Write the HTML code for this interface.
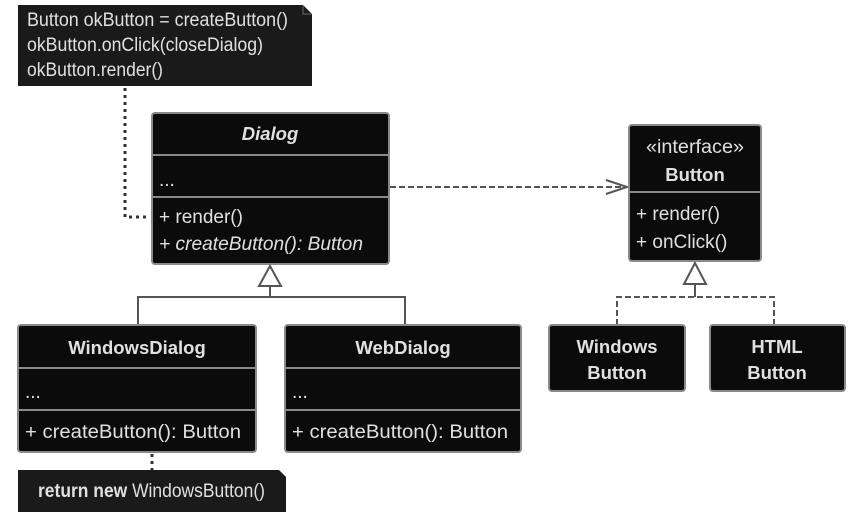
<!DOCTYPE html>
<html><head><meta charset="utf-8"><style>
html,body{margin:0;padding:0;background:#fff;}
svg{display:block;font-family:"Liberation Sans",sans-serif;}
.box{fill:#0b0b0b;stroke:#8a8a8a;stroke-width:2;}
.div{stroke:#8a8a8a;stroke-width:2;}
.t{fill:#e0e0e0;font-size:19px;}
.b{font-weight:bold;font-size:18.5px;}
.ln{stroke:#555;stroke-width:2;fill:none;}
.dash{stroke:#555;stroke-width:2;fill:none;stroke-dasharray:6,3;}
.dot{stroke:#333;stroke-width:3;fill:none;stroke-dasharray:3,4;}
</style></head><body>
<svg width="855" height="516" viewBox="0 0 855 516">
<path d="M18 5 H303 L312 14 V86 H18 Z" fill="#1a1a1a"/>
<path d="M303 5 V14 H312" fill="none" stroke="#666" stroke-width="1"/>
<text class="t" x="27" y="26" font-size="16.5" textLength="261" lengthAdjust="spacingAndGlyphs">Button okButton = createButton()</text>
<text class="t" x="27" y="51" font-size="16.5" textLength="236" lengthAdjust="spacingAndGlyphs">okButton.onClick(closeDialog)</text>
<text class="t" x="27" y="76" font-size="16.5" textLength="136" lengthAdjust="spacingAndGlyphs">okButton.render()</text>
<path class="dot" d="M125 88 V217 H150"/>

<rect class="box" x="152" y="113" width="237" height="151" rx="3"/>
<line class="div" x1="152" y1="155" x2="389" y2="155"/>
<line class="div" x1="152" y1="197" x2="389" y2="197"/>
<text class="t b" x="270" y="140" text-anchor="middle" font-style="italic">Dialog</text>
<text class="t" x="159" y="186">...</text>
<text class="t" x="159" y="223">+ render()</text>
<text class="t" x="159" y="250" font-style="italic" textLength="204" lengthAdjust="spacingAndGlyphs">+ createButton(): Button</text>

<path class="dash" d="M390 187 H626"/>
<path class="ln" d="M606 180 L627 187 L606 194"/>

<rect class="box" x="629" y="125" width="132" height="136" rx="3"/>
<line class="div" x1="629" y1="192" x2="761" y2="192"/>
<text class="t" x="695" y="153" text-anchor="middle" textLength="98" lengthAdjust="spacingAndGlyphs">«interface»</text>
<text class="t b" x="695" y="181" text-anchor="middle">Button</text>
<text class="t" x="636" y="220">+ render()</text>
<text class="t" x="636" y="248">+ onClick()</text>

<path d="M270 266 L259 286 H281 Z" fill="#fff" stroke="#555" stroke-width="2"/>
<path class="ln" d="M270 286 V297 M138 325 V297 H405 V325"/>

<path d="M695 263 L684 284 H706 Z" fill="#fff" stroke="#555" stroke-width="2"/>
<path class="ln" d="M695 284 V297"/>
<path class="dash" d="M617 325 V297 H774 V325"/>

<rect class="box" x="18" y="325" width="238" height="127" rx="3"/>
<line class="div" x1="18" y1="368" x2="256" y2="368"/>
<line class="div" x1="18" y1="410" x2="256" y2="410"/>
<text class="t b" x="137" y="354" text-anchor="middle" font-size="19">WindowsDialog</text>
<text class="t" x="25" y="398">...</text>
<text class="t" x="25" y="438" textLength="216" lengthAdjust="spacingAndGlyphs">+ createButton(): Button</text>

<rect class="box" x="285" y="325" width="236" height="127" rx="3"/>
<line class="div" x1="285" y1="368" x2="521" y2="368"/>
<line class="div" x1="285" y1="410" x2="521" y2="410"/>
<text class="t b" x="403" y="354" text-anchor="middle" font-size="19">WebDialog</text>
<text class="t" x="292" y="398">...</text>
<text class="t" x="292" y="438" textLength="216" lengthAdjust="spacingAndGlyphs">+ createButton(): Button</text>

<rect class="box" x="549" y="325" width="136" height="66" rx="3"/>
<text class="t b" x="617" y="353" text-anchor="middle" font-size="19">Windows</text>
<text class="t b" x="617" y="379" text-anchor="middle" font-size="19">Button</text>
<rect class="box" x="710" y="325" width="135" height="66" rx="3"/>
<text class="t b" x="777" y="353" text-anchor="middle" font-size="19">HTML</text>
<text class="t b" x="777" y="379" text-anchor="middle" font-size="19">Button</text>

<path class="dot" d="M152 454 V470"/>
<path d="M18 470 H279 L286 477 V512 H18 Z" fill="#1a1a1a"/>
<text class="t" x="38" y="497" font-size="15.5" textLength="227" lengthAdjust="spacingAndGlyphs"><tspan font-weight="bold">return new</tspan> WindowsButton()</text>
</svg>
</body></html>
